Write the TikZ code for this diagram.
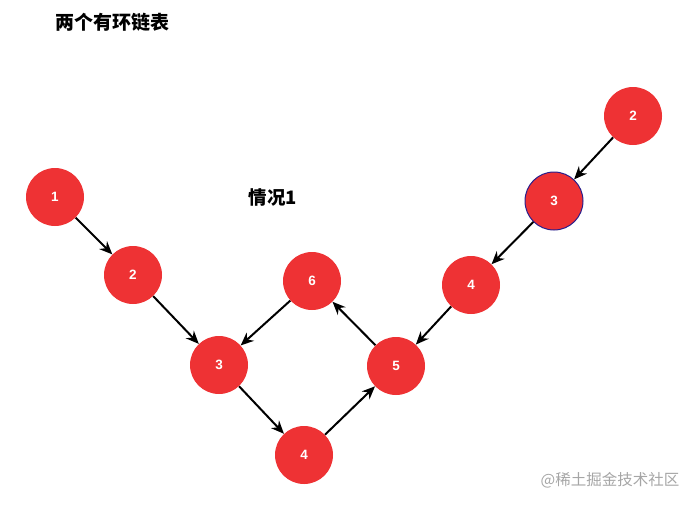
\documentclass[tikz,border=0pt]{standalone}
\usepackage{fontspec}
\setmainfont{Liberation Sans}
\newfontfamily\cjk{Noto Sans CJK SC}
\usetikzlibrary{arrows.meta}
\definecolor{nodered}{RGB}{238,50,52}
\definecolor{ringblue}{RGB}{40,30,140}
\begin{document}
\begin{tikzpicture}[x=1pt,y=-1pt,
  lnode/.style={circle,fill=nodered,minimum size=58pt,inner sep=0pt,text=white,font=\bfseries\fontsize{13.5}{16}\selectfont},
  link/.style={-{Stealth[length=13pt,width=11pt]},line width=2pt,black}]
\useasboundingbox (0,0) rectangle (692,504);
\node[font=\cjk\bfseries\fontsize{19}{22}\selectfont] (title) at (112,22) {两个有环链表};
\node[font=\cjk\bfseries\fontsize{18.5}{22}\selectfont] (case) at (273,197) {情况1};
\node[lnode] (a1) at (55,197) {1};
\node[lnode] (a2) at (133,275) {2};
\node[lnode] (c3) at (219,365) {3};
\node[lnode] (c4) at (304,455) {4};
\node[lnode] (c5) at (396,366) {5};
\node[lnode] (c6) at (312,281) {6};
\node[lnode] (b4) at (471,285) {4};
\node[lnode,draw=ringblue,line width=1pt] (b3) at (554,201) {3};
\node[lnode] (b2) at (633,116) {2};
\draw[link] (a1) -- (a2);
\draw[link] (a2) -- (c3);
\draw[link] (c3) -- (c4);
\draw[link] (c4) -- (c5);
\draw[link] (c5) -- (c6);
\draw[link] (c6) -- (c3);
\draw[link] (b2) -- (b3);
\draw[link] (b3) -- (b4);
\draw[link] (b4) -- (c5);
\node[font=\cjk\fontsize{15.5}{18}\selectfont,text=black!35] (wm) at (610,480) {@稀土掘金技术社区};
\end{tikzpicture}
\end{document}
